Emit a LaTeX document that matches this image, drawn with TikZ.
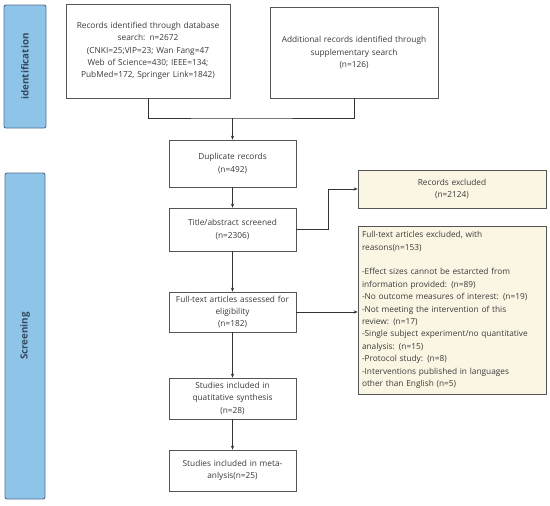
\documentclass[tikz,border=0pt]{standalone}
\usepackage{fontspec}
\setmainfont{Open Sans}
\usetikzlibrary{arrows.meta}
\definecolor{sidefill}{HTML}{8EC4E8}
\definecolor{sidedraw}{HTML}{4F6F8F}
\definecolor{sidetext}{HTML}{34495E}
\definecolor{boxdraw}{HTML}{555555}
\definecolor{creamfill}{HTML}{FBF6E4}
\definecolor{txt}{HTML}{3A3A3A}
\begin{document}
\begin{tikzpicture}[x=1pt,y=-1pt,
  every node/.style={font=\fontsize{8.3}{12.4}\selectfont, text=txt},
  side/.style={draw=sidedraw, fill=sidefill, rounded corners=2pt, line width=0.9pt, inner sep=0pt},
  sidelabel/.style={rotate=90, font=\fontsize{9.8}{11}\selectfont\bfseries, text=sidetext},
  box/.style={draw=boxdraw, line width=0.7pt, fill=white, align=center, inner sep=1pt},
  exbox/.style={draw=boxdraw, line width=0.7pt, fill=creamfill, inner sep=1pt},
  conn/.style={draw=black!80, line width=0.7pt},
  arr/.style={conn, -{Stealth[length=4pt,width=3.2pt]}}]
\useasboundingbox (0,0) rectangle (550,506);
% sidebars
\node[side, minimum width=42pt, minimum height=123pt] (sid1) at (25,66.5) {};
\node[sidelabel] (lid) at (sid1.center) {identification};
\node[side, minimum width=40pt, minimum height=326pt] (sid2) at (25,336) {};
\node[sidelabel] (lsc) at (sid2.center) {Screening};
% boxes
\node[box, minimum width=164pt, minimum height=94pt, text width=162pt] (b1) at (148,51)
  {Records identified through database\\search: n=2672\\(CNKI=25;VIP=23; Wan Fang=47\\Web of Science=430; IEEE=134;\\PubMed=172, Springer Link=1842)};
\node[box, minimum width=168pt, minimum height=91pt, text width=164pt] (b2) at (354,52.5)
  {Additional records identified through\\supplementary search\\(n=126)};
\node[box, minimum width=127pt, minimum height=47pt, text width=125pt] (dup) at (232.5,163.5)
  {Duplicate records\\(n=492)};
\node[box, minimum width=127pt, minimum height=43pt, text width=125pt] (tit) at (232.5,229.5)
  {Title/abstract screened\\(n=2306)};
\node[box, minimum width=127pt, minimum height=40pt, text width=125pt] (ful) at (232.5,312)
  {Full-text articles assessed for\\eligibility\\(n=182)};
\node[box, minimum width=127pt, minimum height=41pt, text width=125pt] (qua) at (232.5,398.5)
  {Studies included in\\quatitative synthesis\\(n=28)};
\node[box, minimum width=127pt, minimum height=41pt, text width=125pt] (met) at (232.5,470.5)
  {Studies included in meta-\\anlysis(n=25)};
\node[exbox, align=center, minimum width=188pt, minimum height=38pt, text width=184pt] (rex) at (452,189)
  {Records excluded\\(n=2124)};
\node[exbox, align=left, minimum width=188pt, minimum height=168pt, text width=180pt] (fex) at (452,310)
  {Full-text articles excluded, with\\reasons(n=153)\\[12.4pt]-Effect sizes cannot be estarcted from\\information provided: (n=89)\\-No outcome measures of interest: (n=19)\\-Not meeting the intervention of this\\review: (n=17)\\-Single subject experiment/no quantitative\\analysis: (n=15)\\-Protocol study: (n=8)\\-Interventions published in languages\\other than English (n=5)};
% connectors
\coordinate (m) at (232.5,118);
\draw[conn] (b1.south) |- (m) -| (b2.south);
\draw[arr] (m) -- (dup.north);
\draw[arr] (dup.south) -- (tit.north);
\draw[arr] (tit.south) -- (ful.north);
\draw[arr] (ful.south) -- (qua.north);
\draw[arr] (qua.south) -- (met.north);
\draw[arr] (tit.east) -- ++(32,0) |- (rex.west);
\draw[arr] (ful.east) -- (ful.east -| fex.west);
\end{tikzpicture}
\end{document}
